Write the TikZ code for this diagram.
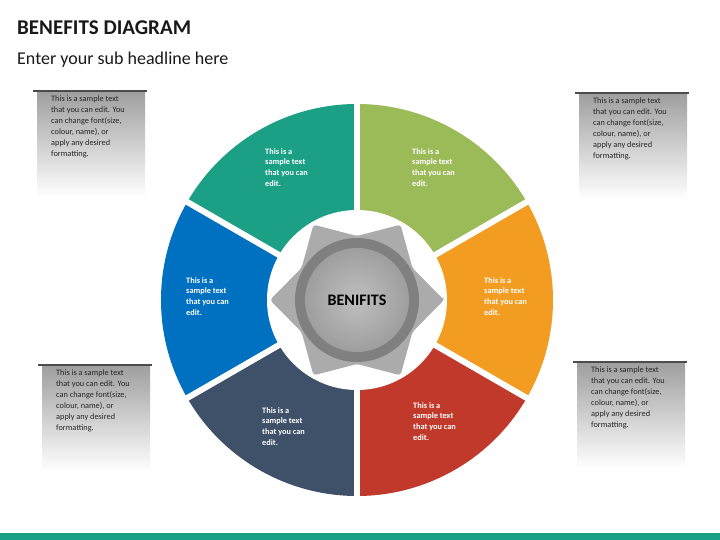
\documentclass[tikz,border=0pt]{standalone}
\usepackage{fontspec}
\setmainfont{Carlito}
\begin{document}
\begin{tikzpicture}[x=1pt,y=1pt,
  seglbl/.style={text=white,font=\bfseries\fontsize{8.3}{10.7}\selectfont,align=left,anchor=north west,inner sep=0},
  boxtxt/.style={font=\fontsize{8.3}{11}\selectfont,align=left,anchor=north west,inner sep=0,text=black!85},
  barline/.style={line width=2.5pt,draw=black!70}]
\useasboundingbox (0,0) rectangle (720,540);
\fill[white] (0,0) rectangle (720,540);
% title
\node[anchor=west,inner sep=0,font=\bfseries\fontsize{21}{24}\selectfont,text=black!90] (title) at (17,512) {BENEFITS DIAGRAM};
\node[anchor=west,inner sep=0,font=\fontsize{18}{22}\selectfont,text=black!90] (sub) at (17,480) {Enter your sub headline here};
\fill[color={rgb,255:red,27;green,160;blue,133}] (0,0) rectangle (720,6.5);
% segments
\coordinate (c) at (357,240);
\def\ri{88}\def\ro{196}
\foreach \a/\col in {90/{rgb,255:red,27;green,160;blue,133},30/{rgb,255:red,155;green,187;blue,89},-30/{rgb,255:red,243;green,156;blue,34},-90/{rgb,255:red,192;green,57;blue,43},210/{rgb,255:red,62;green,81;blue,104},150/{rgb,255:red,0;green,112;blue,192}}{
  \fill[color=\col] ([shift={(\a:\ri)}]c) arc[start angle=\a,delta angle=60,radius=\ri] -- ([shift={(\a+60:\ro)}]c) arc[start angle=\a+60,delta angle=-60,radius=\ro] -- cycle;
}
\foreach \a in {90,30,-30,-90,210,150}{
  \draw[white,line width=6pt] (c) -- ([shift={(\a:\ro+5)}]c);
}
\fill[white] (c) circle (\ri+2);
% gear
\fill[black!33,rounded corners=3pt] ([shift={(0:87)}]c)
  \foreach \k in {1,...,6}{ -- ([shift={(\k*60-30:64)}]c) -- ([shift={(\k*60:87)}]c)} -- cycle;
\fill[black!50] (c) circle (62);
\shade[inner color=black!25,outer color=black!38] (c) circle (52);
\node[font=\bfseries\fontsize{16}{18}\selectfont,text=black] (ben) at (c) {BENIFITS};
% segment labels
\node[seglbl] (l1) at (265,392) {This is a\\sample text\\that you can\\edit.};
\node[seglbl] (l2) at (412,392) {This is a\\sample text\\that you can\\edit.};
\node[seglbl] (l3) at (186,263) {This is a\\sample text\\that you can\\edit.};
\node[seglbl] (l4) at (484,263) {This is a\\sample text\\that you can\\edit.};
\node[seglbl] (l5) at (262,133) {This is a\\sample text\\that you can\\edit.};
\node[seglbl] (l6) at (413,138) {This is a\\sample text\\that you can\\edit.};
% side boxes
\foreach \bx/\by/\nm in {37/449/b1,579/447/b2,42/175/b3,577/178/b4}{
  \shade[top color=black!38,bottom color=white] (\bx,\by) rectangle (\bx+108,\by-106);
  \draw[barline] (\bx-4,\by) -- (\bx+110,\by);
  \node[boxtxt] (\nm) at (\bx+14,\by-5) {This is a sample text\\that you can edit. You\\can change font(size,\\colour, name), or\\apply any desired\\formatting.};
}
\end{tikzpicture}
\end{document}
